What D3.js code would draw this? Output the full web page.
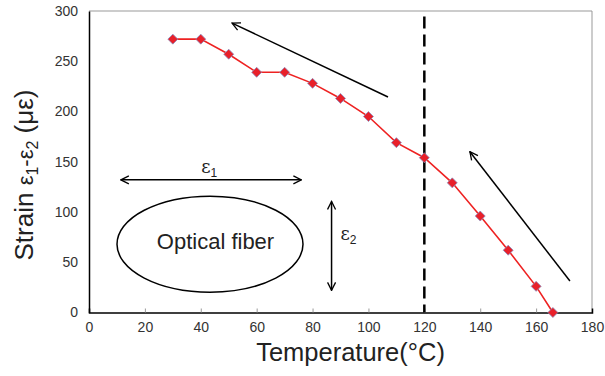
<!DOCTYPE html>
<html><head><meta charset="utf-8">
<script src="https://cdn.jsdelivr.net/npm/d3@7"></script>
<style>body{margin:0;background:#fff}svg{display:block}</style>
</head><body>
<script>
const temps = [30,40,50,60,70,80,90,100,110,120,130,140,150,160,166];
const strain = [272,272,257,239,239,228,213,195,169,154,129,96,62,26,0];
const xTicks = [0,20,40,60,80,100,120,140,160,180];
const yTicks = [0,50,100,150,200,250,300];

const W=605,H=376;
const m={l:89,t:11,r:13,b:63.5};
const svg=d3.select("body").append("svg").attr("width",W).attr("height",H);
const x=d3.scaleLinear().domain([0,180]).range([m.l,W-m.r]);
const y=d3.scaleLinear().domain([0,300]).range([H-m.b,m.t]);
const font="Liberation Sans, Arial, sans-serif";

svg.append("defs").append("marker").attr("id","ah").attr("viewBox","0 0 10 10")
 .attr("refX",9).attr("refY",5).attr("markerWidth",10).attr("markerHeight",10)
 .attr("markerUnits","userSpaceOnUse").attr("orient","auto-start-reverse")
 .append("path").attr("d","M1,1 L9,5 L1,9").attr("fill","none").attr("stroke","#000").attr("stroke-width",1.3);

// frame
svg.append("line").attr("x1",x(0)).attr("x2",x(180)).attr("y1",y(300)).attr("y2",y(300)).attr("stroke","#999");
svg.append("line").attr("x1",x(180)).attr("x2",x(180)).attr("y1",y(0)).attr("y2",y(300)).attr("stroke","#999");

// axes
const xa=svg.append("g").attr("transform",`translate(0,${y(0)})`)
 .call(d3.axisBottom(x).tickValues(xTicks).tickSize(-4).tickPadding(10));
const ya=svg.append("g").attr("transform",`translate(${x(0)},0)`)
 .call(d3.axisLeft(y).tickValues(yTicks).tickSize(0).tickPadding(11));
[xa,ya].forEach(a=>{a.select(".domain").attr("stroke","#000").attr("stroke-width",1.5);
 a.selectAll(".tick line").attr("stroke","#999");
 a.selectAll("text").attr("font-family",font).attr("font-size",14).attr("fill","#333");});
xa.selectAll(".tick").filter(d=>d===0||d===180).select("line").remove();

// dashed line
svg.append("line").attr("x1",x(120)).attr("x2",x(120)).attr("y1",y(294.5)).attr("y2",y(0))
 .attr("stroke","#000").attr("stroke-width",2.5).attr("stroke-dasharray","12,6");

// series
const line=d3.line().x((d,i)=>x(temps[i])).y(d=>y(d));
svg.append("path").datum(strain).attr("d",line).attr("fill","none").attr("stroke","#ee2222").attr("stroke-width",1.6);
svg.selectAll(".pt").data(strain).enter().append("path")
 .attr("transform",(d,i)=>`translate(${x(temps[i])},${y(d)})`)
 .attr("d","M0,-5 L5,0 L0,5 L-5,0Z").attr("fill","#e8202a").attr("stroke","#8a8fc0").attr("stroke-width",0.8);

// arrows
function arrow(x1,y1,x2,y2,both){
 const l=svg.append("line").attr("x1",x(x1)).attr("y1",y(y1)).attr("x2",x(x2)).attr("y2",y(y2))
  .attr("stroke","#000").attr("stroke-width",1.5).attr("marker-end","url(#ah)");
 if(both) l.attr("marker-start","url(#ah)");
}
arrow(107,214.4,51.2,288);
arrow(172.1,31.3,136.3,160);
arrow(11.4,132,76,132,true);
arrow(86.8,22,86.8,110.5,true);

// ellipse
svg.append("ellipse").attr("cx",x(43.3)).attr("cy",y(68)).attr("rx",93).attr("ry",48)
 .attr("fill","none").attr("stroke","#000").attr("stroke-width",1.5);
svg.append("text").attr("x",215.5).attr("y",249).attr("text-anchor","middle")
 .attr("font-family",font).attr("font-size",22).attr("fill","#222").text("Optical fiber");

// epsilon labels
const e1=svg.append("text").attr("x",x(43)).attr("y",y(139)).attr("text-anchor","middle")
 .attr("font-family","DejaVu Serif, serif").attr("font-size",18).attr("fill","#222");
e1.append("tspan").text("ε");
e1.append("tspan").attr("font-size",12).attr("dy",4).attr("font-family",font).text("1");
const e2=svg.append("text").attr("x",x(90)).attr("y",y(72)).attr("text-anchor","start")
 .attr("font-family","DejaVu Serif, serif").attr("font-size",18).attr("fill","#222");
e2.append("tspan").text("ε");
e2.append("tspan").attr("font-size",12).attr("dy",4).attr("font-family",font).text("2");

// axis titles
svg.append("text").attr("x",350.5).attr("y",361).attr("text-anchor","middle")
 .attr("font-family",font).attr("font-size",25.5).attr("fill","#222").text("Temperature(°C)");
const yt=svg.append("text").attr("transform",`translate(33,175) rotate(-90)`).attr("text-anchor","middle")
 .attr("font-family",font).attr("font-size",26).attr("fill","#222");
yt.append("tspan").text("Strain ");
yt.append("tspan").attr("font-size",22).text("ε");
yt.append("tspan").attr("font-size",16).attr("dy",5).text("1");
yt.append("tspan").attr("dy",-5).attr("font-size",22).text("-ε");
yt.append("tspan").attr("font-size",16).attr("dy",5).text("2");
yt.append("tspan").attr("dy",-5).text(" (με)");
</script>
</body></html>
